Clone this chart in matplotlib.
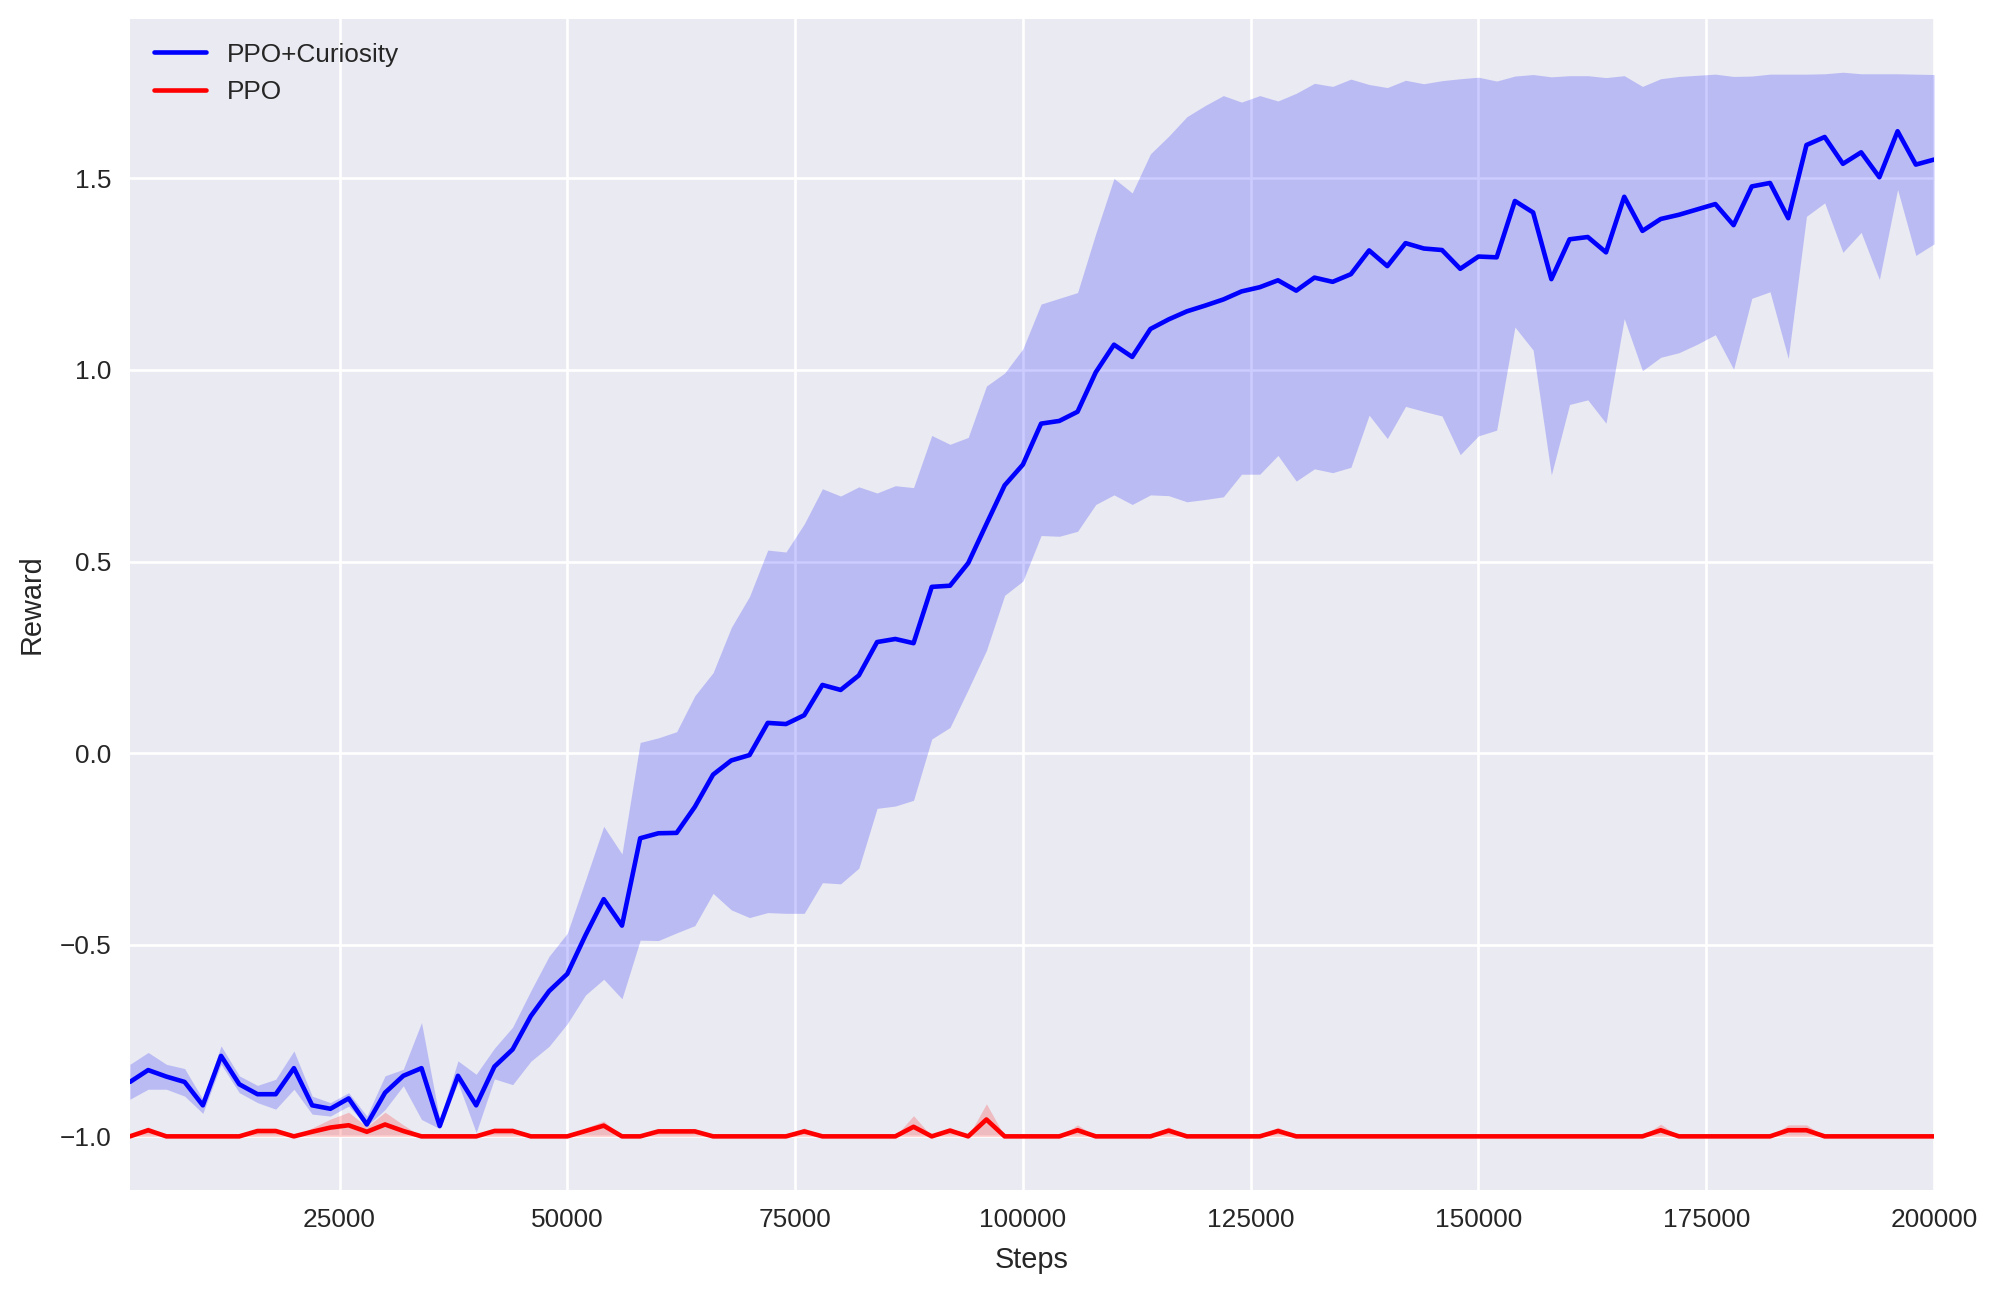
import numpy as np
import matplotlib
matplotlib.use('Agg')
import matplotlib.pyplot as plt

# data (one point every 2000 steps)
steps = np.arange(2000, 200001, 2000)

curiosity_mean = [
    -0.858, -0.827, -0.844, -0.858, -0.919, -0.790, -0.864, -0.890, -0.890, -0.822,
    -0.919, -0.928, -0.901, -0.969, -0.886, -0.842, -0.822, -0.973, -0.842, -0.919,
    -0.818, -0.773, -0.686, -0.621, -0.576, -0.475, -0.381, -0.450, -0.222, -0.209,
    -0.208, -0.140, -0.056, -0.019, -0.005, 0.079, 0.076, 0.099, 0.178, 0.165,
    0.203, 0.290, 0.298, 0.287, 0.434, 0.437, 0.496, 0.598, 0.699, 0.753,
    0.860, 0.867, 0.891, 0.994, 1.066, 1.034, 1.107, 1.132, 1.153, 1.168,
    1.184, 1.205, 1.216, 1.234, 1.207, 1.241, 1.230, 1.250, 1.312, 1.271,
    1.331, 1.317, 1.313, 1.264, 1.296, 1.294, 1.441, 1.411, 1.237, 1.341,
    1.347, 1.307, 1.452, 1.363, 1.394, 1.405, 1.419, 1.433, 1.378, 1.479,
    1.488, 1.396, 1.587, 1.608, 1.538, 1.568, 1.503, 1.623, 1.536, 1.549,
]
curiosity_upper = [
    -0.812, -0.781, -0.812, -0.823, -0.903, -0.764, -0.842, -0.867, -0.851, -0.777,
    -0.895, -0.912, -0.886, -0.947, -0.842, -0.825, -0.703, -0.956, -0.803, -0.838,
    -0.770, -0.715, -0.620, -0.530, -0.470, -0.331, -0.191, -0.263, 0.028, 0.040,
    0.056, 0.150, 0.210, 0.328, 0.409, 0.530, 0.525, 0.598, 0.690, 0.671,
    0.695, 0.679, 0.698, 0.693, 0.829, 0.806, 0.824, 0.958, 0.992, 1.055,
    1.172, 1.187, 1.202, 1.356, 1.500, 1.462, 1.564, 1.610, 1.661, 1.690,
    1.716, 1.699, 1.716, 1.702, 1.722, 1.748, 1.740, 1.759, 1.745, 1.737,
    1.756, 1.747, 1.755, 1.760, 1.764, 1.754, 1.767, 1.771, 1.765, 1.768,
    1.768, 1.763, 1.768, 1.740, 1.760, 1.766, 1.769, 1.772, 1.766, 1.767,
    1.772, 1.772, 1.772, 1.773, 1.777, 1.773, 1.773, 1.773, 1.772, 1.771,
]
curiosity_lower = [
    -0.903, -0.877, -0.877, -0.895, -0.940, -0.812, -0.886, -0.912, -0.929, -0.877,
    -0.942, -0.947, -0.921, -0.973, -0.930, -0.868, -0.956, -0.980, -0.860, -0.990,
    -0.850, -0.865, -0.804, -0.765, -0.706, -0.631, -0.590, -0.641, -0.488, -0.489,
    -0.469, -0.450, -0.366, -0.409, -0.429, -0.416, -0.418, -0.418, -0.338, -0.341,
    -0.300, -0.144, -0.138, -0.123, 0.037, 0.067, 0.166, 0.268, 0.412, 0.449,
    0.568, 0.566, 0.579, 0.649, 0.674, 0.649, 0.674, 0.672, 0.656, 0.662,
    0.669, 0.728, 0.728, 0.777, 0.710, 0.742, 0.732, 0.746, 0.882, 0.821,
    0.905, 0.892, 0.880, 0.779, 0.828, 0.843, 1.112, 1.052, 0.726, 0.910,
    0.922, 0.861, 1.134, 0.998, 1.033, 1.045, 1.067, 1.092, 1.002, 1.187,
    1.204, 1.030, 1.401, 1.436, 1.307, 1.359, 1.236, 1.471, 1.299, 1.329,
]

ppo_mean = [
    -1.000, -0.984, -1.000, -1.000, -1.000, -1.000, -1.000, -0.986, -0.986, -1.000,
    -0.988, -0.977, -0.971, -0.988, -0.969, -0.986, -1.000, -1.000, -1.000, -1.000,
    -0.986, -0.986, -1.000, -1.000, -1.000, -0.986, -0.972, -1.000, -1.000, -0.987,
    -0.987, -0.987, -1.000, -1.000, -1.000, -1.000, -1.000, -0.987, -1.000, -1.000,
    -1.000, -1.000, -1.000, -0.975, -1.000, -0.985, -1.000, -0.956, -1.000, -1.000,
    -1.000, -1.000, -0.984, -1.000, -1.000, -1.000, -1.000, -0.985, -1.000, -1.000,
    -1.000, -1.000, -1.000, -0.986, -1.000, -1.000, -1.000, -1.000, -1.000, -1.000,
    -1.000, -1.000, -1.000, -1.000, -1.000, -1.000, -1.000, -1.000, -1.000, -1.000,
    -1.000, -1.000, -1.000, -1.000, -0.984, -1.000, -1.000, -1.000, -1.000, -1.000,
    -1.000, -0.984, -0.984, -1.000, -1.000, -1.000, -1.000, -1.000, -1.000, -1.000,
]
ppo_upper = [
    -1.000, -0.975, -1.000, -1.000, -1.000, -1.000, -1.000, -0.980, -0.980, -1.000,
    -0.978, -0.955, -0.937, -0.975, -0.937, -0.970, -1.000, -1.000, -1.000, -1.000,
    -0.978, -0.978, -1.000, -1.000, -1.000, -0.978, -0.960, -1.000, -1.000, -0.980,
    -0.980, -0.980, -1.000, -1.000, -1.000, -1.000, -1.000, -0.978, -1.000, -1.000,
    -1.000, -1.000, -1.000, -0.946, -1.000, -0.976, -1.000, -0.915, -1.000, -1.000,
    -1.000, -1.000, -0.970, -1.000, -1.000, -1.000, -1.000, -0.975, -1.000, -1.000,
    -1.000, -1.000, -1.000, -0.976, -1.000, -1.000, -1.000, -1.000, -1.000, -1.000,
    -1.000, -1.000, -1.000, -1.000, -1.000, -1.000, -1.000, -1.000, -1.000, -1.000,
    -1.000, -1.000, -1.000, -1.000, -0.968, -1.000, -1.000, -1.000, -1.000, -1.000,
    -1.000, -0.970, -0.970, -1.000, -1.000, -1.000, -1.000, -1.000, -1.000, -1.000,
]
ppo_lower = [-1.0] * len(ppo_mean)

x_ticks = [25000, 50000, 75000, 100000, 125000, 150000, 175000, 200000]
y_ticks = [-1.0, -0.5, 0.0, 0.5, 1.0, 1.5]

plt.style.use('seaborn-v0_8')
plt.rcParams['font.family'] = ['Liberation Sans', 'DejaVu Sans']

dpi = 189
fig = plt.figure(figsize=(1999 / dpi, 1294 / dpi), dpi=dpi)
ax = fig.add_axes([0.065, 0.0807, 0.9025, 0.9046])

ax.plot(steps, curiosity_mean, color='blue', label='PPO+Curiosity')
ax.fill_between(steps, curiosity_lower, curiosity_upper, color='blue', alpha=0.2, linewidth=0)
ax.plot(steps, ppo_mean, color='red', label='PPO')
ax.fill_between(steps, ppo_lower, ppo_upper, color='red', alpha=0.2, linewidth=0)

ax.set_xlim(2000, 200000)
ax.set_xticks(x_ticks)
ax.set_yticks(y_ticks)
ax.set_xlabel('Steps', labelpad=5.5)
ax.set_ylabel('Reward', labelpad=5.5)
ax.legend(loc='upper left')

fig.savefig('out.png', dpi=dpi)
